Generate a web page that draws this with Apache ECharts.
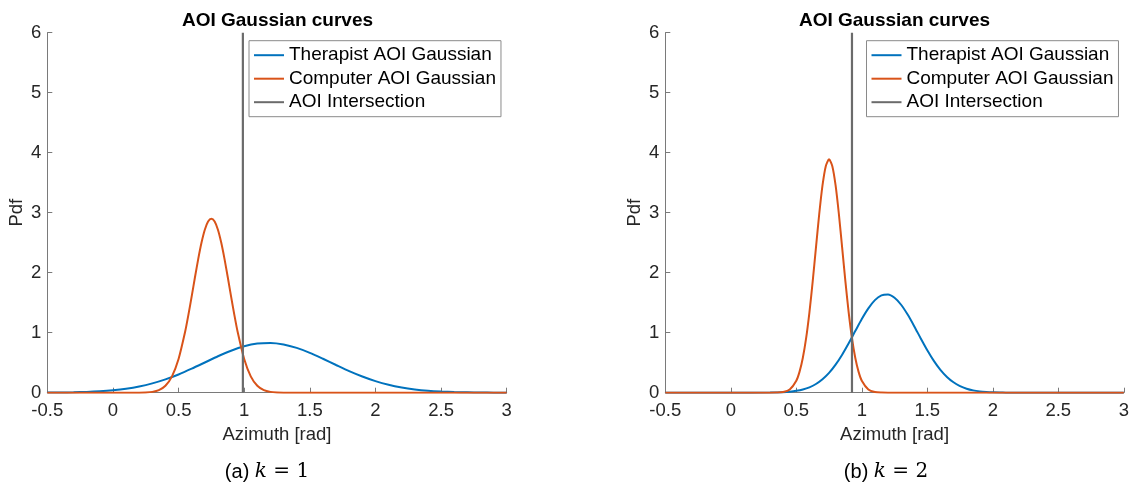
<!DOCTYPE html>
<html>
<head>
<meta charset="utf-8">
<title>AOI Gaussian curves</title>
<script src="https://cdn.jsdelivr.net/npm/echarts@6/dist/echarts.min.js"></script>
<style>
  html, body { margin: 0; padding: 0; background: #ffffff; }
  #chart { width: 1135px; height: 486px; }
</style>
</head>
<body>
<div id="chart"></div>
<script>
// ---- (a) k = 1 ----
const azimuthK1Therapist = [-0.5, -0.4, -0.3, -0.2, -0.1, 0, 0.1, 0.2, 0.3, 0.4, 0.5, 0.6, 0.7, 0.8, 0.9, 1.0, 1.1, 1.2, 1.3, 1.4, 1.5, 1.6, 1.7, 1.8, 1.9, 2.0, 2.1, 2.2, 2.3, 2.4, 2.5, 2.6, 2.7, 2.8, 2.9, 3.0];
const pdfK1Therapist = [0.002, 0.004, 0.007, 0.013, 0.024, 0.041, 0.066, 0.103, 0.155, 0.222, 0.304, 0.400, 0.503, 0.607, 0.700, 0.774, 0.819, 0.829, 0.804, 0.747, 0.665, 0.566, 0.462, 0.360, 0.270, 0.193, 0.132, 0.087, 0.055, 0.033, 0.019, 0.010, 0.006, 0.003, 0.001, 0.001];

const azimuthK1Computer = [-0.5, 0, 0.2, 0.25, 0.3, 0.35, 0.4, 0.45, 0.5, 0.55, 0.575, 0.6, 0.625, 0.65, 0.675, 0.7, 0.725, 0.75, 0.775, 0.8, 0.825, 0.85, 0.875, 0.9, 0.925, 0.95, 1.0, 1.05, 1.1, 1.15, 1.2, 1.25, 1.3, 1.5, 3.0];
const pdfK1Computer = [0, 0, 0.001, 0.004, 0.014, 0.043, 0.116, 0.273, 0.562, 1.015, 1.298, 1.606, 1.924, 2.230, 2.502, 2.716, 2.853, 2.900, 2.853, 2.716, 2.502, 2.230, 1.924, 1.606, 1.298, 1.015, 0.562, 0.273, 0.116, 0.043, 0.014, 0.004, 0.001, 0, 0];

const intersectionK1 = 0.99;

// ---- (b) k = 2 ----
const azimuthK2Therapist = [-0.5, 0, 0.3, 0.35, 0.4, 0.45, 0.5, 0.55, 0.6, 0.65, 0.7, 0.75, 0.8, 0.85, 0.9, 0.95, 1.0, 1.05, 1.1, 1.15, 1.2, 1.25, 1.3, 1.35, 1.4, 1.45, 1.5, 1.55, 1.6, 1.65, 1.7, 1.75, 1.8, 1.85, 1.9, 1.95, 2.0, 2.05, 2.1, 2.2, 2.5, 3.0];
const pdfK2Therapist = [0, 0, 0.002, 0.005, 0.009, 0.017, 0.031, 0.054, 0.090, 0.145, 0.224, 0.330, 0.468, 0.634, 0.824, 1.027, 1.228, 1.405, 1.543, 1.623, 1.637, 1.582, 1.466, 1.302, 1.109, 0.905, 0.708, 0.531, 0.381, 0.263, 0.174, 0.110, 0.067, 0.039, 0.022, 0.012, 0.006, 0.003, 0.001, 0, 0, 0];

const azimuthK2Computer = [-0.5, 0, 0.3, 0.35, 0.4, 0.45, 0.5, 0.525, 0.55, 0.575, 0.6, 0.625, 0.65, 0.675, 0.7, 0.725, 0.75, 0.775, 0.8, 0.825, 0.85, 0.875, 0.9, 0.925, 0.95, 0.975, 1.0, 1.05, 1.1, 1.15, 1.2, 1.5, 3.0];
const pdfK2Computer = [0, 0, 0, 0.002, 0.012, 0.054, 0.200, 0.351, 0.582, 0.908, 1.336, 1.852, 2.419, 2.978, 3.455, 3.776, 3.890, 3.776, 3.455, 2.978, 2.419, 1.852, 1.336, 0.908, 0.582, 0.351, 0.200, 0.054, 0.012, 0.002, 0, 0, 0];

const intersectionK2 = 0.925;

// ---- shared axis settings ----
const azimuthTicks = { min: -0.5, max: 3, interval: 0.5 };
const pdfTicks = { min: 0, max: 6, interval: 1 };
const seriesNames = ['Therapist AOI Gaussian', 'Computer AOI Gaussian', 'AOI Intersection'];
const panelTitle = 'AOI Gaussian curves';
const xAxisTitle = 'Azimuth [rad]';
const yAxisTitle = 'Pdf';
const captions = [['(a) ', 'k', ' = 1'], ['(b) ', 'k', ' = 2']];

const COLORS = ['#0072BD', '#D95319', '#6b6b6b'];
const FONT = '"Liberation Sans", Arial, Helvetica, sans-serif';
const TEXT = '#262626';
const AXIS = '#7a7a7a';

const zip = (xs, ys) => xs.map((x, i) => [x, ys[i]]);

const grids = [
  { left: 47.3, top: 32.7, width: 459.4, height: 360 },
  { left: 665.3, top: 32.7, width: 458.5, height: 360 }
];

function xAxisFor(gridIndex) {
  return {
    type: 'value', gridIndex,
    min: azimuthTicks.min, max: azimuthTicks.max, interval: azimuthTicks.interval,
    name: xAxisTitle, nameLocation: 'middle', nameGap: 33,
    nameTextStyle: { fontFamily: FONT, fontSize: 18.5, color: TEXT },
    axisLine: { show: true, onZero: false, lineStyle: { color: AXIS, width: 1 } },
    axisTick: { show: true, inside: true, length: 5, lineStyle: { color: AXIS } },
    axisLabel: { fontFamily: FONT, fontSize: 18.5, color: TEXT, margin: 9 },
    splitLine: { show: false }
  };
}

function yAxisFor(gridIndex) {
  return {
    type: 'value', gridIndex,
    min: pdfTicks.min, max: pdfTicks.max, interval: pdfTicks.interval,
    name: yAxisTitle, nameLocation: 'middle', nameGap: 21,
    nameTextStyle: { fontFamily: FONT, fontSize: 18.5, color: TEXT },
    axisLine: { show: true, onZero: false, lineStyle: { color: AXIS, width: 1 } },
    axisTick: { show: true, inside: true, length: 5, lineStyle: { color: AXIS } },
    axisLabel: { fontFamily: FONT, fontSize: 18.5, color: TEXT, margin: 6 },
    splitLine: { show: false }
  };
}

function curve(name, idx, data, color, width) {
  return {
    name, type: 'line', xAxisIndex: idx, yAxisIndex: idx,
    data, symbol: 'none', smooth: 0.25, clip: true,
    lineStyle: { color, width: width || 2 }, itemStyle: { color },
    emphasis: { disabled: true }, animation: false
  };
}

function legendFor(left) {
  return {
    orient: 'vertical', left, top: 40.7,
    data: seriesNames, selectedMode: false,
    icon: 'rect', itemWidth: 30, itemHeight: 2, itemGap: 4.5,
    padding: [5, 5, 5, 5],
    backgroundColor: '#ffffff', borderColor: '#8a8a8a', borderWidth: 1, borderRadius: 0,
    textStyle: { fontFamily: FONT, fontSize: 19, color: '#000000', padding: [0, 0, 0, 0] }
  };
}

function captionText(cx, parts) {
  return {
    type: 'text', x: cx, y: 472,
    style: {
      text: '{a|' + parts[0] + '}{k|' + parts[1] + '}{e|' + parts[2] + '}',
      align: 'center', verticalAlign: 'middle',
      rich: {
        a: { fontFamily: FONT, fontSize: 20, fill: '#000000' },
        k: { fontFamily: '"DejaVu Serif", "Liberation Serif", serif', fontStyle: 'italic', fontSize: 20, fill: '#000000' },
        e: { fontFamily: '"DejaVu Serif", "Liberation Serif", serif', fontSize: 20, fill: '#000000' }
      }
    }
  };
}

const chart = echarts.init(document.getElementById('chart'), null, { renderer: 'canvas' });

chart.setOption({
  animation: false,
  backgroundColor: '#ffffff',
  title: [
    { text: panelTitle, left: 277.5, top: 11, textAlign: 'center', padding: 0,
      textStyle: { fontFamily: FONT, fontSize: 19, fontWeight: 'bold', color: '#000000' } },
    { text: panelTitle, left: 894.5, top: 11, textAlign: 'center', padding: 0,
      textStyle: { fontFamily: FONT, fontSize: 19, fontWeight: 'bold', color: '#000000' } }
  ],
  legend: [legendFor(249), legendFor(866.5)],
  grid: grids,
  xAxis: [xAxisFor(0), xAxisFor(1)],
  yAxis: [yAxisFor(0), yAxisFor(1)],
  series: [
    curve(seriesNames[0], 0, zip(azimuthK1Therapist, pdfK1Therapist), COLORS[0]),
    curve(seriesNames[1], 0, zip(azimuthK1Computer, pdfK1Computer), COLORS[1]),
    curve(seriesNames[2], 0, [[intersectionK1, pdfTicks.min], [intersectionK1, pdfTicks.max]], COLORS[2], 2.2),
    curve(seriesNames[0], 1, zip(azimuthK2Therapist, pdfK2Therapist), COLORS[0]),
    curve(seriesNames[1], 1, zip(azimuthK2Computer, pdfK2Computer), COLORS[1]),
    curve(seriesNames[2], 1, [[intersectionK2, pdfTicks.min], [intersectionK2, pdfTicks.max]], COLORS[2], 2.2)
  ],
  graphic: [captionText(267, captions[0]), captionText(886, captions[1])]
});
</script>
</body>
</html>
